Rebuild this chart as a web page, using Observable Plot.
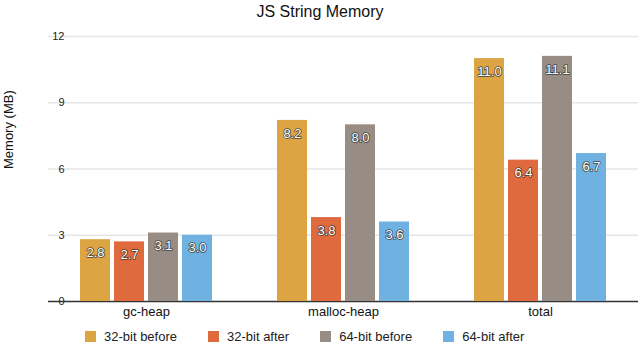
<!DOCTYPE html>
<html>
<head>
<meta charset="utf-8">
<script src="https://cdn.jsdelivr.net/npm/d3@7"></script>
<script src="https://cdn.jsdelivr.net/npm/@observablehq/plot@0.6"></script>
<style>
  html, body { margin: 0; padding: 0; background: #fff; }
  body { width: 640px; height: 352px; overflow: hidden; font-family: "Liberation Sans", Arial, sans-serif; }
  #title { height: 24px; line-height: 24px; text-align: center; font-size: 16px; color: #111; }
  #chart { position: relative; width: 640px; height: 297px; }
  #chart svg { position: absolute; left: 0; top: 0; }
  #legend { display: flex; align-items: center; height: 31px; padding-left: 85px; font-size: 13px; color: #222; }
  .item { display: flex; align-items: center; margin-right: 31px; }
  .sw { width: 11px; height: 11px; margin-right: 8px; }
</style>
</head>
<body>
<div id="title">JS String Memory</div>
<div id="chart"></div>
<div id="legend"></div>
<script>
const categories = ["gc-heap", "malloc-heap", "total"];
const series = ["32-bit before", "32-bit after", "64-bit before", "64-bit after"];
const bit32Before = [2.8, 8.2, 11.0];
const bit32After = [2.7, 3.8, 6.4];
const bit64Before = [3.1, 8.0, 11.1];
const bit64After = [3.0, 3.6, 6.7];
const colors = ["#DDA443", "#DE6A3E", "#978D84", "#6FB1E1"];
const yTicks = [0, 3, 6, 9, 12];
const yLabel = "Memory (MB)";

const seriesValues = [bit32Before, bit32After, bit64Before, bit64After];
const data = [];
categories.forEach((c, i) => {
  series.forEach((s, j) => data.push({category: c, series: s, value: seriesValues[j][i]}));
});

const common = {
  width: 640,
  height: 297,
  marginLeft: 48,
  marginRight: 2,
  marginTop: 12,
  marginBottom: 20,
  style: {fontFamily: "Liberation Sans, Arial, sans-serif", background: "transparent", color: "#222"}
};

// background layer: gridlines, baseline and y label across the full width
const back = Plot.plot({
  ...common,
  style: {...common.style, background: "#fff"},
  y: {domain: [0, 12], axis: null},
  marks: [
    Plot.ruleY(yTicks.filter(d => d > 0), {stroke: "#e6e6e6", strokeWidth: 1.5}),
    Plot.ruleY([0], {stroke: "#333", strokeWidth: 1.5}),
    Plot.text([yLabel], {frameAnchor: "left", rotate: -90, dx: -40, fontSize: 13, fill: "#111"})
  ]
});

// foreground layer: grouped bars
const front = Plot.plot({
  ...common,
  fx: {domain: categories, paddingInner: 0.31, paddingOuter: 0.152, label: null, axis: null},
  x: {domain: series, axis: null, paddingInner: 0.114, paddingOuter: 0},
  y: {domain: [0, 12], axis: null},
  color: {domain: series, range: colors},
  marks: [
    Plot.axisY(yTicks, {tickSize: 0, tickPadding: 14, fontSize: 11, label: null, fill: "#222"}),
    Plot.axisFx({anchor: "bottom", tickSize: 0, tickPadding: 5, fontSize: 13, label: null, fill: "#111"}),
    Plot.barY(data, {fx: "category", x: "series", y: "value", fill: "series"}),
    Plot.text(data, {fx: "category", x: "series", y: "value", text: d => d.value.toFixed(1), dy: 13, fill: "white", stroke: "#333", strokeWidth: 1.6, strokeOpacity: 0.85, paintOrder: "stroke", fontSize: 13})
  ]
});

document.getElementById("chart").appendChild(back);
document.getElementById("chart").appendChild(front);

const legend = document.getElementById("legend");
series.forEach((s, j) => {
  const item = document.createElement("div");
  item.className = "item";
  const sw = document.createElement("div");
  sw.className = "sw";
  sw.style.background = colors[j];
  const lab = document.createElement("span");
  lab.textContent = s;
  item.appendChild(sw);
  item.appendChild(lab);
  legend.appendChild(item);
});
</script>
</body>
</html>
